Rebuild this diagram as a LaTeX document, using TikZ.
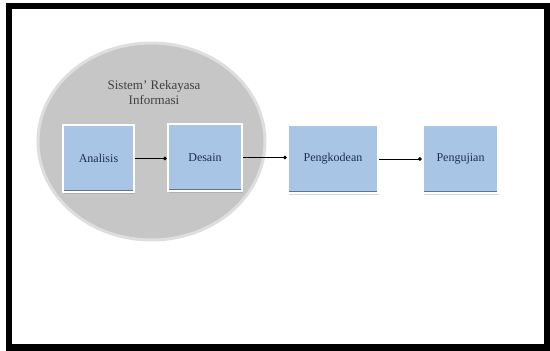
\documentclass[tikz,border=0pt]{standalone}
\usepackage{fontspec}
\setmainfont{Liberation Serif}
\usetikzlibrary{arrows.meta,shapes.geometric,shadows,calc}
\definecolor{boxblue}{RGB}{168,197,230}
\definecolor{boxedge}{RGB}{95,115,140}
\definecolor{navy}{RGB}{30,45,85}
\definecolor{circgray}{RGB}{198,198,198}
\definecolor{rimgray}{RGB}{222,222,222}
\tikzset{
  stepbox/.style={rectangle, fill=boxblue, draw=white, line width=2.5pt,
    text=navy, font=\fontsize{12}{13}\selectfont, inner sep=0pt,
    drop shadow={opacity=0.3, shadow xshift=0.8pt, shadow yshift=-1.8pt}},
  link/.style={draw=black, line width=0.9pt, -{Circle[length=3.6pt]}},
  bandline/.style={draw=boxedge, line width=1.2pt}
}
\begin{document}
\begin{tikzpicture}[x=1pt,y=-1pt]
\useasboundingbox (0,0) rectangle (550,351);
\fill[white] (0,0) rectangle (550,351);
% outer frame
\draw[line width=6.5pt, black] (9,6) rectangle (547,347.5);
% big circle
\node[ellipse, draw=rimgray, line width=3pt, fill=circgray, minimum width=227pt, minimum height=197pt, inner sep=0pt] (sys) at (151.5,141.5) {};
\node[text=black!75, font=\fontsize{13}{15}\selectfont, align=center] (title) at (154,93) {Sistem' Rekayasa\\Informasi};
% boxes
\node[stepbox, minimum width=71pt, minimum height=67pt] (ana) at (98.5,158.5) {Analisis};
\node[stepbox, minimum width=74pt, minimum height=67pt] (des) at (205,157.5) {Desain};
\node[stepbox, minimum width=90pt, minimum height=68pt] (kod) at (333,159) {Pengkodean};
\node[stepbox, minimum width=75pt, minimum height=68pt] (uji) at (460.5,159) {Pengujian};
% darker bottom bands inside boxes
\foreach \n in {ana,des,kod,uji}{
  \draw[bandline] ($(\n.south west)+(2.5,-3)$) -- ($(\n.south east)+(-2.5,-3)$);
}
% connectors
\draw[link] (ana.east) -- (ana.east -| des.west);
\draw[link] (des.east) -- (des.east -| kod.west);
\draw[link] (kod.east) -- (kod.east -| uji.west);
\end{tikzpicture}
\end{document}
